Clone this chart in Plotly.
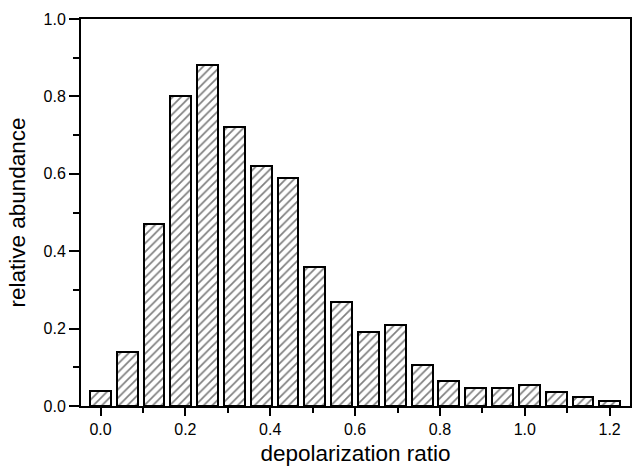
import plotly.graph_objects as go

# bin centres (depolarization ratio) and relative abundance
ratio = [0.0, 0.063, 0.126, 0.189, 0.253, 0.316, 0.379, 0.442, 0.505, 0.568,
         0.632, 0.695, 0.758, 0.821, 0.884, 0.947, 1.011, 1.074, 1.137, 1.2]
abundance = [0.04, 0.14, 0.47, 0.80, 0.88, 0.72, 0.62, 0.59, 0.36, 0.27,
             0.19, 0.21, 0.105, 0.065, 0.047, 0.047, 0.055, 0.037, 0.022, 0.012]
x_ticks = [0.0, 0.2, 0.4, 0.6, 0.8, 1.0, 1.2]
x_ticklabels = ["0.0", "0.2", "0.4", "0.6", "0.8", "1.0", "1.2"]
y_ticks = [0.0, 0.2, 0.4, 0.6, 0.8, 1.0]
y_ticklabels = ["0.0", "0.2", "0.4", "0.6", "0.8", "1.0"]

fig = go.Figure(go.Bar(
    x=ratio, y=abundance, width=0.049,
    marker=dict(color="white",
                line=dict(color="black", width=2),
                pattern=dict(shape="/", fgcolor="black", bgcolor="white",
                             size=6, solidity=0.28, fillmode="overlay")),
))

font = "Liberation Sans, Arial, sans-serif"
fig.update_layout(
    width=633, height=470,
    margin=dict(l=81, r=1, t=19, b=64),
    plot_bgcolor="white", paper_bgcolor="white",
    showlegend=False,
    font=dict(family=font, color="black", size=16),
    bargap=0,
)
fig.update_xaxes(
    range=[-0.046, 1.248], showgrid=False, zeroline=False,
    showline=True, linecolor="black", linewidth=2, mirror=True,
    ticks="outside", ticklen=8, tickwidth=2, tickcolor="black",
    tickvals=x_ticks, ticktext=x_ticklabels,
    tickfont=dict(size=16, family=font, color="black"),
    minor=dict(ticks="outside", ticklen=5, tickwidth=1.5, tickcolor="black",
               dtick=0.1, tick0=0, showgrid=False),
    title=dict(text="depolarization ratio", font=dict(size=22.5, family=font), standoff=8),
)
fig.update_yaxes(
    range=[0, 1.0], showgrid=False, zeroline=False,
    showline=True, linecolor="black", linewidth=2, mirror=True,
    ticks="outside", ticklen=10, tickwidth=2, tickcolor="black",
    tickvals=y_ticks, ticktext=y_ticklabels,
    tickfont=dict(size=16, family=font, color="black"),
    minor=dict(ticks="outside", ticklen=6, tickwidth=1.5, tickcolor="black",
               dtick=0.1, tick0=0, showgrid=False),
    title=dict(text="relative abundance", font=dict(size=22.5, family=font), standoff=12),
)

fig.write_html("out.html")
